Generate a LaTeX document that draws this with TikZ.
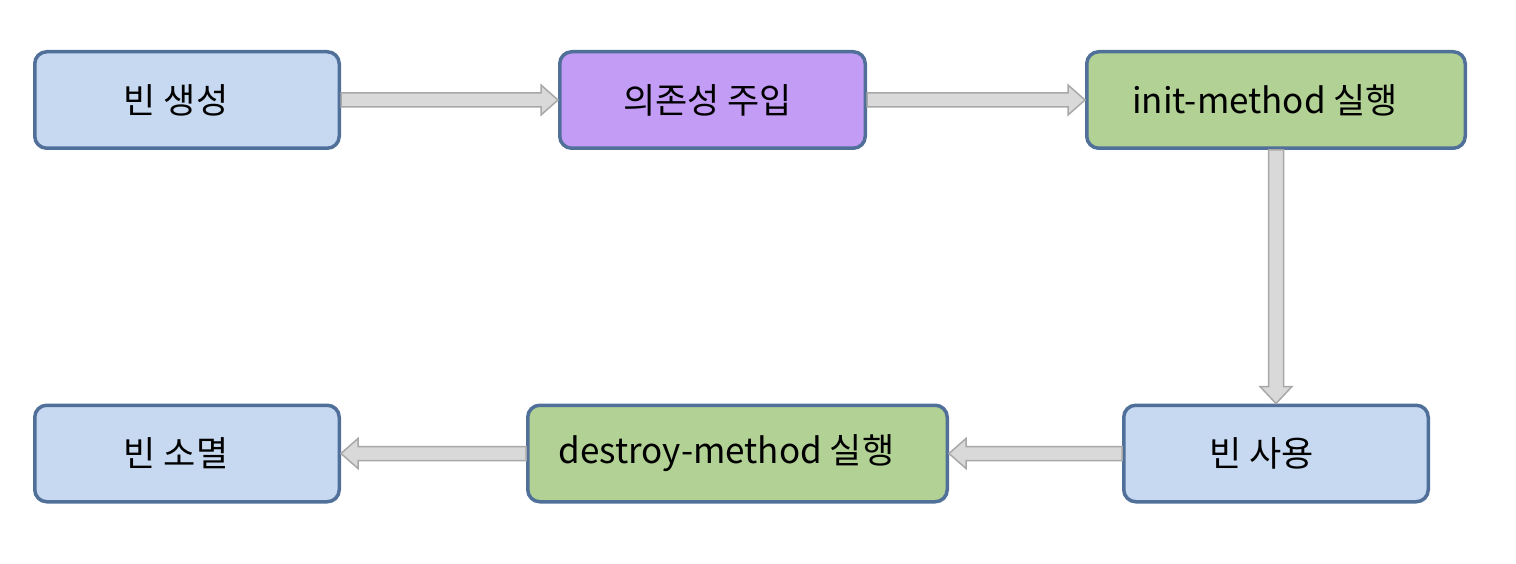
\documentclass[tikz,border=0pt]{standalone}
\usepackage{fontspec}
\setmainfont{Noto Sans CJK KR}
\usetikzlibrary{calc}
\definecolor{bordc}{HTML}{50709A}
\definecolor{bluef}{HTML}{C6D9F0}
\definecolor{purplef}{HTML}{C39CF5}
\definecolor{greenf}{HTML}{B2D194}
\definecolor{arrf}{HTML}{D9D9D9}
\definecolor{arrd}{HTML}{A8A8A8}
\tikzset{
  stepbox/.style={draw=bordc, line width=3.5pt, rounded corners=12pt, minimum height=96.5pt, inner sep=0pt, font=\fontsize{35}{40}\selectfont, text=black},
  bluebox/.style={stepbox, fill=bluef},
  purplebox/.style={stepbox, fill=purplef},
  greenbox/.style={stepbox, fill=greenf},
  blockarr/.style={fill=arrf, draw=arrd, line width=1.5pt, line join=miter}
}
\newcommand{\shiftl}{\hspace*{-22pt}}
\begin{document}
\begin{tikzpicture}[x=1pt,y=-1pt]
\useasboundingbox (0,0) rectangle (1516,564);
\node[bluebox, minimum width=304.5pt] (a) at (187,100) {\shiftl 빈 생성};
\node[purplebox, minimum width=305.5pt] (b) at (712.5,100) {\hspace*{-10pt}의존성 주입};
\node[greenbox, minimum width=378.5pt] (c) at (1276,100) {\shiftl init-method 실행};
\node[bluebox, minimum width=304.5pt] (d) at (187,453.5) {\shiftl 빈 소멸};
\node[greenbox, minimum width=419.5pt] (e) at (737.5,453.5) {\shiftl destroy-method 실행};
\node[bluebox, minimum width=304.5pt] (f) at (1276,453.5) {\hspace*{-28pt}빈 사용};
% right arrows
\draw[blockarr] let \p1=(a.east), \p2=(b.west) in
  (\x1,\y1+7pt) -- (\x2-17pt,\y1+7pt) -- (\x2-17pt,\y1+15pt) -- (\x2,\y1) -- (\x2-17pt,\y1-15pt) -- (\x2-17pt,\y1-7pt) -- (\x1,\y1-7pt) -- cycle;
\draw[blockarr] let \p1=(b.east), \p2=(c.west) in
  (\x1,\y1+7pt) -- (\x2-17pt,\y1+7pt) -- (\x2-17pt,\y1+15pt) -- (\x2,\y1) -- (\x2-17pt,\y1-15pt) -- (\x2-17pt,\y1-7pt) -- (\x1,\y1-7pt) -- cycle;
% down arrow
\draw[blockarr] let \p1=(c.south), \p2=(f.north) in
  (\x1-7.5pt,\y1) -- (\x1-7.5pt,\y2+17pt) -- (\x1-16pt,\y2+17pt) -- (\x1,\y2) -- (\x1+16pt,\y2+17pt) -- (\x1+7.5pt,\y2+17pt) -- (\x1+7.5pt,\y1) -- cycle;
% left arrows
\draw[blockarr] let \p1=(f.west), \p2=(e.east) in
  (\x1,\y1+7pt) -- (\x2+17pt,\y1+7pt) -- (\x2+17pt,\y1+15pt) -- (\x2,\y1) -- (\x2+17pt,\y1-15pt) -- (\x2+17pt,\y1-7pt) -- (\x1,\y1-7pt) -- cycle;
\draw[blockarr] let \p1=(e.west), \p2=(d.east) in
  (\x1,\y1+7pt) -- (\x2+17pt,\y1+7pt) -- (\x2+17pt,\y1+15pt) -- (\x2,\y1) -- (\x2+17pt,\y1-15pt) -- (\x2+17pt,\y1-7pt) -- (\x1,\y1-7pt) -- cycle;
\end{tikzpicture}
\end{document}
